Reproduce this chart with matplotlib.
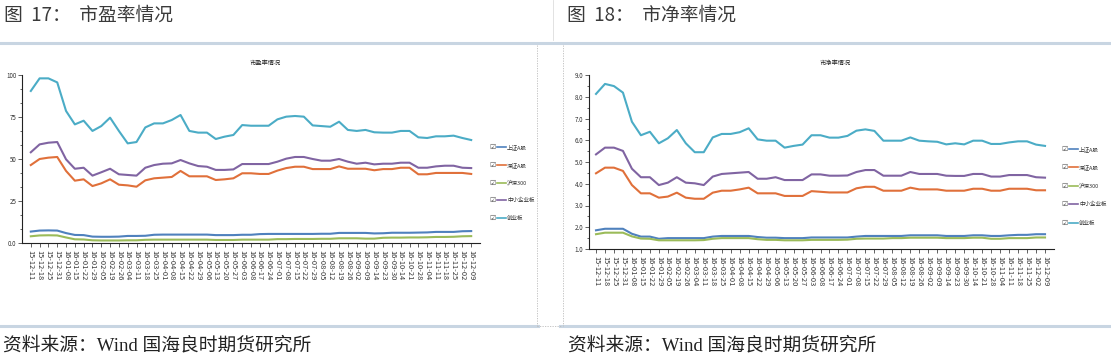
import matplotlib
matplotlib.use('Agg')
import matplotlib.pyplot as plt
from matplotlib.lines import Line2D

plt.rcParams['font.family'] = ['Noto Sans CJK SC', 'DejaVu Sans']

# weekly dates (YY-MM-DD)
dates = ['15-12-11', '15-12-18', '15-12-25', '15-12-31',
         '16-01-08', '16-01-15', '16-01-22', '16-01-29', '16-02-05', '16-02-19', '16-02-26',
         '16-03-04', '16-03-11', '16-03-18', '16-03-25', '16-04-01', '16-04-08', '16-04-15',
         '16-04-22', '16-04-29', '16-05-06', '16-05-13', '16-05-20', '16-05-27', '16-06-03',
         '16-06-08', '16-06-17', '16-06-24', '16-07-01', '16-07-08', '16-07-15', '16-07-22',
         '16-07-29', '16-08-05', '16-08-12', '16-08-19', '16-08-26', '16-09-02', '16-09-09',
         '16-09-14', '16-09-23', '16-09-30', '16-10-14', '16-10-21', '16-10-28', '16-11-04',
         '16-11-11', '16-11-18', '16-11-25', '16-12-02', '16-12-09']

names = ['上证A股', '深证A股', '沪深300', '中小企业板', '创业板']
colors = ['#4F81BD', '#E0703A', '#9BBB59', '#8064A2', '#4BACC6']

# 市盈率
pe_sh = [6.8, 7.4, 7.5, 7.4, 5.9, 4.8, 4.7, 3.8, 3.7, 3.7, 3.8, 4.2, 4.2, 4.3, 4.9, 5.0, 5.0,
         5.0, 5.0, 5.0, 5.0, 4.7, 4.7, 4.7, 4.9, 4.9, 5.3, 5.4, 5.4, 5.4, 5.4, 5.4, 5.4, 5.5,
         5.5, 6.0, 6.0, 6.0, 6.0, 5.7, 5.8, 6.1, 6.1, 6.1, 6.2, 6.3, 6.6, 6.6, 6.6, 7.0, 7.1]
pe_sz = [46.4, 50.0, 50.8, 51.2, 42.9, 37.1, 37.9, 33.9, 35.5, 37.9, 34.7, 34.3, 33.5, 37.3,
         38.5, 38.9, 39.3, 42.9, 39.7, 39.7, 39.7, 37.5, 37.9, 38.5, 41.5, 41.5, 41.1, 41.1,
         43.1, 44.6, 45.4, 45.4, 44.0, 44.0, 44.0, 45.6, 44.2, 44.2, 44.2, 43.3, 44.0, 44.0,
         44.8, 44.8, 40.9, 40.9, 41.7, 41.7, 41.7, 41.7, 41.1]
pe_hs300 = [4.0, 4.5, 4.6, 4.5, 3.3, 2.2, 2.1, 1.6, 1.5, 1.5, 1.5, 1.6, 1.6, 1.9, 2.0, 2.0,
            2.0, 2.0, 2.0, 2.0, 2.0, 1.8, 1.8, 1.8, 2.0, 2.0, 2.0, 2.0, 2.3, 2.3, 2.4, 2.4,
            2.4, 2.5, 2.5, 2.8, 2.8, 2.8, 2.6, 2.6, 3.1, 3.2, 3.2, 3.3, 3.3, 3.4, 3.6, 3.6,
            3.7, 4.0, 4.1]
pe_zxb = [54.0, 58.7, 59.7, 60.1, 49.8, 44.2, 44.8, 40.1, 42.1, 44.2, 40.9, 40.5, 40.1, 44.8,
          46.4, 47.2, 47.4, 49.4, 47.4, 45.8, 45.4, 43.5, 43.5, 43.8, 47.0, 47.0, 47.0, 47.0,
          48.4, 50.2, 51.2, 51.2, 50.0, 49.0, 49.0, 50.0, 48.4, 47.2, 47.8, 46.8, 47.2, 47.2,
          47.8, 47.8, 44.8, 44.8, 45.6, 46.0, 46.0, 44.8, 44.6]
pe_cyb = [90.5, 98.0, 98.0, 95.6, 78.6, 70.6, 72.8, 66.7, 69.6, 74.6, 66.7, 59.3, 60.1, 68.8,
          71.2, 71.2, 73.2, 76.2, 66.7, 65.7, 65.7, 61.9, 63.3, 64.3, 70.2, 69.8, 69.8, 69.8,
          73.6, 75.2, 75.6, 75.2, 70.0, 69.6, 69.2, 72.2, 67.3, 66.7, 67.3, 65.9, 65.7, 65.7,
          66.7, 66.7, 62.9, 62.5, 63.5, 63.5, 63.9, 62.5, 61.3]

# 市净率
pb_sh = [1.86, 1.93, 1.93, 1.93, 1.70, 1.57, 1.57, 1.47, 1.50, 1.50, 1.50, 1.50, 1.50, 1.57,
         1.60, 1.60, 1.60, 1.60, 1.55, 1.52, 1.52, 1.50, 1.50, 1.50, 1.53, 1.53, 1.53, 1.53,
         1.53, 1.57, 1.60, 1.60, 1.60, 1.60, 1.60, 1.63, 1.63, 1.63, 1.63, 1.60, 1.60, 1.60,
         1.63, 1.63, 1.60, 1.60, 1.63, 1.65, 1.65, 1.68, 1.68]
pb_sz = [4.48, 4.74, 4.74, 4.59, 3.94, 3.56, 3.56, 3.36, 3.41, 3.59, 3.36, 3.31, 3.31, 3.59,
         3.68, 3.68, 3.74, 3.82, 3.56, 3.56, 3.56, 3.44, 3.44, 3.44, 3.66, 3.63, 3.60, 3.60,
         3.60, 3.79, 3.86, 3.86, 3.68, 3.68, 3.68, 3.82, 3.74, 3.74, 3.74, 3.68, 3.68, 3.68,
         3.77, 3.77, 3.68, 3.68, 3.77, 3.77, 3.77, 3.70, 3.70]
pb_hs300 = [1.68, 1.75, 1.75, 1.75, 1.58, 1.48, 1.47, 1.40, 1.40, 1.40, 1.40, 1.40, 1.41, 1.47,
            1.50, 1.50, 1.50, 1.50, 1.45, 1.42, 1.42, 1.40, 1.40, 1.40, 1.42, 1.42, 1.42, 1.42,
            1.43, 1.47, 1.48, 1.48, 1.48, 1.50, 1.50, 1.52, 1.52, 1.52, 1.52, 1.50, 1.50, 1.50,
            1.52, 1.52, 1.47, 1.47, 1.50, 1.50, 1.50, 1.53, 1.53]
pb_zxb = [5.35, 5.66, 5.66, 5.51, 4.69, 4.30, 4.30, 3.94, 4.05, 4.30, 4.05, 4.02, 3.94, 4.33,
          4.45, 4.48, 4.51, 4.54, 4.23, 4.23, 4.30, 4.17, 4.17, 4.17, 4.43, 4.43, 4.37, 4.37,
          4.38, 4.54, 4.63, 4.63, 4.37, 4.37, 4.37, 4.54, 4.45, 4.45, 4.45, 4.37, 4.36, 4.36,
          4.45, 4.45, 4.33, 4.33, 4.40, 4.40, 4.40, 4.30, 4.28]
pb_cyb = [8.13, 8.59, 8.49, 8.19, 6.85, 6.23, 6.39, 5.86, 6.09, 6.47, 5.86, 5.45, 5.45, 6.13,
          6.29, 6.29, 6.37, 6.55, 6.04, 5.98, 5.98, 5.66, 5.74, 5.80, 6.23, 6.23, 6.12, 6.12,
          6.20, 6.44, 6.50, 6.43, 5.98, 5.98, 5.98, 6.13, 5.98, 5.95, 5.93, 5.81, 5.86, 5.81,
          5.98, 5.98, 5.83, 5.83, 5.90, 5.95, 5.95, 5.80, 5.74]

pe_yticks = [0, 25, 50, 75, 100]
pe_ylabels = ['0.0', '25', '50', '75', '100']
pb_yticks = [1, 2, 3, 4, 5, 6, 7, 8, 9]

W, H = 1111, 363
fig = plt.figure(figsize=(W / 100, H / 100), dpi=100)


def fx(px):
    return px / W


def fy(py):
    return 1 - py / H


def box(x0, y0, x1, y1):
    return [fx(x0), fy(y1), fx(x1 - x0), (y1 - y0) / H]


# frame decorations
sep = '#C8D5E2'
dot = (0, (1.5, 1.5))
fig.add_artist(Line2D([0, 1], [fy(43), fy(43)], color=sep, lw=2.2))
fig.add_artist(Line2D([0, fx(538)], [fy(326), fy(326)], color=sep, lw=2.2))
fig.add_artist(Line2D([fx(560), 1], [fy(326), fy(326)], color=sep, lw=2.2))
fig.add_artist(Line2D([fx(537), fx(537)], [fy(45), fy(326)], color='#BBBBBB', lw=0.6, ls=dot))
fig.add_artist(Line2D([fx(537), fx(562)], [fy(326), fy(326)], color='#BBBBBB', lw=0.6, ls=dot))
fig.add_artist(Line2D([fx(563), fx(563)], [fy(45), fy(326)], color='#BBBBBB', lw=0.6, ls=dot))
fig.add_artist(Line2D([fx(553), fx(553)], [fy(0), fy(40)], color='#DDDDDD', lw=0.6))

fig.text(fx(4), fy(15), '图  17：  市盈率情况', fontsize=13.5, color='#3A3A3A', va='center', ha='left')
fig.text(fx(567), fy(15), '图  18：  市净率情况', fontsize=13.5, color='#3A3A3A', va='center', ha='left')
src_font = ['Liberation Serif', 'Noto Sans CJK SC']
fig.text(fx(3), fy(346), '资料来源：Wind 国海良时期货研究所', fontsize=13.5, color='#222222',
         va='center', ha='left', family=src_font)
fig.text(fx(568), fy(346), '资料来源：Wind 国海良时期货研究所', fontsize=13.5, color='#222222',
         va='center', ha='left', family=src_font)


def draw_panel(ax, series, xlim, ylim, yticks, ylabels, minor):
    x = list(range(len(dates)))
    for vals, c in zip(series, colors):
        ax.plot(x, vals, color=c, lw=1.5, solid_joinstyle='round')
    ax.set_xlim(*xlim)
    ax.set_ylim(*ylim)
    ax.set_xticks(x)
    ax.set_xticklabels(dates, rotation=270, fontsize=5.4, color='#333333')
    ax.set_yticks(yticks)
    ax.set_yticklabels(ylabels, fontsize=4.5, color='#333333')
    ax.set_yticks(minor, minor=True)
    for s in ['top', 'right']:
        ax.spines[s].set_visible(False)
    for s in ['left', 'bottom']:
        ax.spines[s].set_color('#222222')
        ax.spines[s].set_linewidth(0.8)
    ax.tick_params(axis='x', length=3, width=0.5, pad=2, color='#222222')
    ax.tick_params(axis='y', which='major', length=3, width=0.5, pad=1, color='#222222')
    ax.tick_params(axis='y', which='minor', length=1.5, width=0.5, color='#222222')
    ax.patch.set_alpha(0)


def draw_legend(x0, ys):
    for name, c, y in zip(names, colors, ys):
        fig.text(fx(x0), fy(y), '☑', fontsize=5, color='#555555', va='center', ha='center',
                 family='DejaVu Sans')
        fig.add_artist(Line2D([fx(x0 + 4), fx(x0 + 13)], [fy(y), fy(y)], color=c, lw=1.2))
        fig.text(fx(x0 + 14), fy(y), name, fontsize=4, color='#333333', va='center', ha='left')


ax1 = fig.add_axes(box(22, 75, 480, 243))
draw_panel(ax1, [pe_sh, pe_sz, pe_hs300, pe_zxb, pe_cyb], (-1.0, 51.0), (0, 100),
           pe_yticks, pe_ylabels, [i * 25 / 3 for i in range(13)])
fig.text(fx(265), fy(63), '市盈率情况', fontsize=4.5, color='#222222', ha='center', va='center')
draw_legend(493, [147, 165, 183, 200, 218])

ax2 = fig.add_axes(box(589, 75, 1054, 249))
draw_panel(ax2, [pb_sh, pb_sz, pb_hs300, pb_zxb, pb_cyb], (-0.78, 51.0), (1, 9),
           pb_yticks, ['%.1f' % v for v in pb_yticks], [1 + i * 0.5 for i in range(17)])
fig.text(fx(835), fy(63), '市净率情况', fontsize=4.5, color='#222222', ha='center', va='center')
draw_legend(1065, [149, 167, 186, 204, 223])

fig.savefig('out.png', dpi=100)
